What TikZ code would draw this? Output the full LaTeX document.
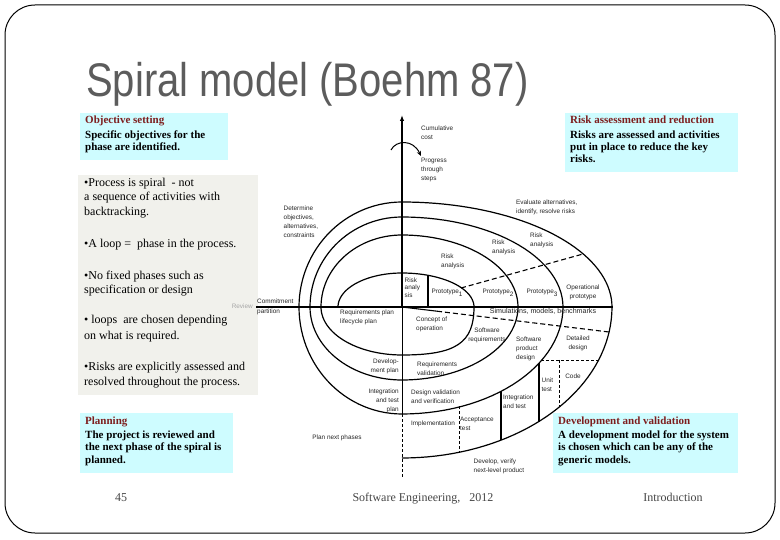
\documentclass[tikz,border=0pt]{standalone}
\usepackage{fontspec}
\setmainfont{Liberation Serif}
\newfontfamily\sansf{Liberation Sans}
\usetikzlibrary{arrows.meta}
\definecolor{boxcyan}{RGB}{206,252,255}
\definecolor{boxgray}{RGB}{241,241,236}
\definecolor{headred}{RGB}{125,30,30}
\definecolor{titlegray}{RGB}{92,92,92}
\definecolor{footgray}{RGB}{70,70,70}
\begin{document}
\begin{tikzpicture}[x=1pt,y=-1pt,
  spiral/.style={line width=1.2pt, line join=round},
  thicksep/.style={line width=1.6pt},
  dashsep/.style={line width=0.6pt, dash pattern=on 3pt off 2pt},
  lab/.style={font=\sansf\fontsize{6.4}{9}\selectfont, inner sep=0pt, text=black!85, align=left},
  boxtxt/.style={font=\fontsize{11}{12}\selectfont\bfseries, inner sep=0pt, align=left},
  graytxt/.style={font=\fontsize{12}{14.5}\selectfont, inner sep=0pt, align=left},
  foottxt/.style={font=\fontsize{12}{14}\selectfont, text=footgray, inner sep=0pt}]
\useasboundingbox (0,0) rectangle (780,540);
\fill[white] (0,0) rectangle (780,540);
% frame
\draw[line width=1pt, rounded corners=30pt] (5,5) rectangle (775,533);
% title
\node[anchor=base west, inner sep=0pt, text=titlegray, font=\sansf\fontsize{40}{44}\selectfont] (title) at (86,97) {\scalebox{1}[1.18]{Spiral model (Boehm 87)}};
% boxes
\fill[boxcyan] (80,113) rectangle (228,160);
\fill[boxcyan] (565,113) rectangle (738,172);
\fill[boxcyan] (80,413) rectangle (233,473);
\fill[boxcyan] (553,413) rectangle (738,473);
\fill[boxgray] (78,175) rectangle (258,395);
\node[boxtxt, anchor=north west] (obj) at (85,115.6) {\textcolor{headred}{Objective setting}\\[3pt] Specific objectives for the\\ phase are identified.};
\node[boxtxt, anchor=north west] (risk) at (570,115.6) {\textcolor{headred}{Risk assessment and reduction}\\[3pt] Risks are assessed and activities\\ put in place to reduce the key\\ risks.};
\node[boxtxt, anchor=north west] (plan) at (85,416.4) {\textcolor{headred}{Planning}\\[2pt] The project is reviewed and\\[0.5pt] the next phase of the spiral is\\[0.5pt] planned.};
\node[boxtxt, anchor=north west] (dev) at (558,416.4) {\textcolor{headred}{Development and validation}\\[2pt] A development model for the system\\[0.5pt] is chosen which can be any of the\\[0.5pt] generic models.};
\node[graytxt, anchor=north west] (notes) at (84,177.8) {•Process is spiral\ \ - not\\ a sequence of activities with\\ backtracking.\\[17.5pt] •A loop =\ \ phase in the process.\\[17.5pt] •No fixed phases such as\\ specification or design\\[15.5pt] • loops\ \ are chosen depending\\[1.5pt] on what is required.\\[16.5pt] •Risks are explicitly assessed and\\ resolved throughout the process.};
% footer
\node[foottxt, anchor=base] (pg) at (121,501) {45};
\node[foottxt, anchor=base] (course) at (423,501) {Software Engineering,\ \ \ 2012};
\node[foottxt, anchor=base] (intro) at (673,501) {Introduction};
% axes
\coordinate (c) at (402,307);
\draw[line width=1.1pt] (256,307) -- (613,307);
\draw[line width=1.2pt, -{Latex[length=6pt,width=4.5pt]}] (c) -- (402,115);
\draw[line width=0.6pt] (c) -- (402,414);
\draw[dashsep] (402,414) -- (402,478);
\draw[line width=1pt, -{Stealth[length=5pt,width=4.5pt]}] (391,150) .. controls (396,140) and (413,139) .. (421,156);
% spiral
\draw[spiral]
  plot[domain=180:90, samples=30, variable=\t] ({402+64*cos(\t)},{307-34*sin(\t)})
  -- plot[domain=90:0, samples=30, variable=\t] ({402+72*cos(\t)},{307-34*sin(\t)})
  .. controls (474,343) and (456,355) .. (402,355)
  -- plot[domain=-90:-180, samples=30, variable=\t] ({402+81*cos(\t)},{307-48*sin(\t)})
  -- plot[domain=180:90, samples=30, variable=\t] ({402+81*cos(\t)},{307-72*sin(\t)})
  -- plot[domain=90:0, samples=30, variable=\t] ({402+116*cos(\t)},{307-72*sin(\t)})
  -- plot[domain=0:-90, samples=30, variable=\t] ({402+116*cos(\t)},{307-73*sin(\t)})
  -- plot[domain=-90:-180, samples=30, variable=\t] ({402+92*cos(\t)},{307-73*sin(\t)})
  -- plot[domain=180:90, samples=30, variable=\t] ({402+92*cos(\t)},{307-90*sin(\t)})
  -- plot[domain=90:0, samples=30, variable=\t] ({402+161*cos(\t)},{307-90*sin(\t)})
  -- plot[domain=0:-90, samples=30, variable=\t] ({402+161*cos(\t)},{307-107*sin(\t)})
  -- plot[domain=-90:-180, samples=30, variable=\t] ({402+103*cos(\t)},{307-107*sin(\t)})
  -- plot[domain=180:90, samples=30, variable=\t] ({402+103*cos(\t)},{307-105*sin(\t)})
  -- plot[domain=90:0, samples=40, variable=\t] ({402+210*cos(\t)},{307-105*sin(\t)})
  -- plot[domain=0:-90, samples=40, variable=\t] ({402+210*cos(\t)},{307-151*sin(\t)});
% separators
\draw[line width=1.1pt, dash pattern=on 5pt off 3pt] (461,288) -- (583,254);
\draw[line width=1.1pt] (c) -- (437,311.2);
\draw[line width=1.1pt, dash pattern=on 5pt off 3pt] (437,311.2) -- (609,332);
\draw[thicksep] (428,275.5) -- (428,307);
\draw[dashsep] (541,360) -- (599,360);
\draw[dashsep] (559,360) -- (559,407);
\draw[thicksep] (539,363) -- (539,421.5);
\draw[thicksep] (501,390.6) -- (501,440.2);
\draw[dashsep] (459,406) -- (459,452.3);
% spiral labels
\node[lab, anchor=north west] (cum) at (421,125.5) {Cumulative\\cost};
\node[lab, anchor=north west] (prog) at (421,157.5) {Progress\\through\\steps};
\node[lab, anchor=north west] (det) at (283.5,205.5) {Determine\\objectives,\\alternatives,\\constraints};
\node[lab, anchor=north west] (eval) at (516,199.5) {Evaluate alternatives,\\identify, resolve risks};
\node[lab, anchor=north west] (ra4) at (530,233) {Risk\\analysis};
\node[lab, anchor=north west] (ra3) at (492,240) {Risk\\analysis};
\node[lab, anchor=north west] (ra2) at (441,253.5) {Risk\\analysis};
\node[lab, anchor=north west, font=\sansf\fontsize{6.4}{7.5}\selectfont] (ra1) at (404.5,277.5) {Risk\\analy\\sis};
\node[lab, anchor=base] (p1) at (447,294) {Prototype\raisebox{-2.5pt}{1}};
\node[lab, anchor=base] (p2) at (498,294) {Prototype\raisebox{-2.5pt}{2}};
\node[lab, anchor=base] (p3) at (542,294) {Prototype\raisebox{-2.5pt}{3}};
\node[lab, anchor=north, align=center] (opp) at (583,284.5) {Operational\\prototype};
\node[lab, anchor=base west] (commit) at (257,304) {Commitment};
\node[lab, anchor=base west] (part) at (257,314) {partition};
\node[lab, anchor=base east, text=black!35] (review) at (253,309) {Review};
\node[lab, anchor=base, font=\sansf\fontsize{7.1}{9}\selectfont] (sim) at (543,314) {Simulations, models, benchmarks};
\node[lab, anchor=north west] (rplan) at (340,310) {Requirements plan\\lifecycle plan};
\node[lab, anchor=north west] (conc) at (416,316.5) {Concept of\\operation};
\node[lab, anchor=north, align=center] (swreq) at (487,327.5) {Software\\requirements};
\node[lab, anchor=north west] (swprod) at (516,337) {Software\\product\\design};
\node[lab, anchor=north, align=center] (detd) at (578,335.5) {Detailed\\design};
\node[lab, anchor=base] (code) at (573,378) {Code};
\node[lab, anchor=north west] (unit) at (541.5,377.5) {Unit\\test};
\node[lab, anchor=north west] (integ) at (503,394.5) {Integration\\and test};
\node[lab, anchor=north east, align=right] (devp) at (399,358.5) {Develop-\\ment plan};
\node[lab, anchor=north west] (rval) at (417,361.5) {Requirements\\validation};
\node[lab, anchor=north east, align=right] (itp) at (399,388.5) {Integration\\and test\\plan};
\node[lab, anchor=north west] (dvv) at (411,389.5) {Design validation\\and verification};
\node[lab, anchor=base] (impl) at (433,425) {Implementation};
\node[lab, anchor=north west] (acc) at (460,416.5) {Acceptance\\test};
\node[lab, anchor=base] (pnp) at (337,439) {Plan next phases};
\node[lab, anchor=north west] (dvn) at (473.5,458.5) {Develop, verify\\next-level product};
\end{tikzpicture}
\end{document}
